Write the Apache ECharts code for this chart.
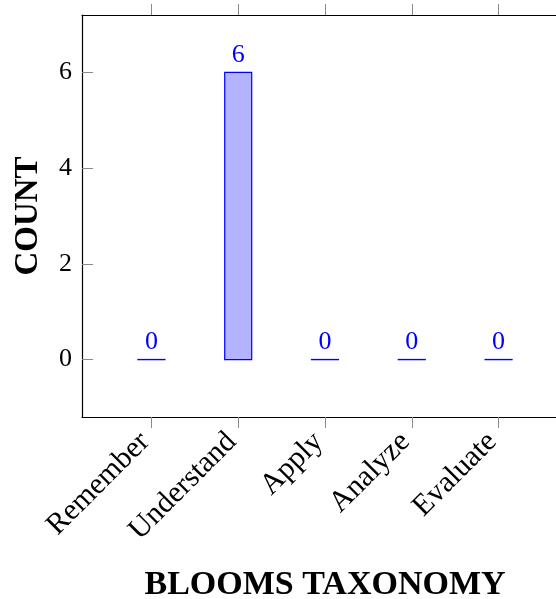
<!DOCTYPE html>
<html><head><meta charset="utf-8">
<script src="https://cdn.jsdelivr.net/npm/echarts@6/dist/echarts.min.js"></script>
<style>html,body{margin:0;padding:0;background:#fff}#c{width:556px;height:599px}</style>
</head><body><div id="c"></div>
<script>
const categories = ['Remember', 'Understand', 'Apply', 'Analyze', 'Evaluate'];
const counts = [0, 6, 0, 0, 0];
const yTicks = [0, 2, 4, 6];
const xTicks = categories.map((c, i) => i);

const serif = 'Liberation Serif';
const chart = echarts.init(document.getElementById('c'), null, {renderer: 'canvas'});
const tickStyle = {color: '#8a8a8a', width: 1};
const lineStyle = {color: '#000', width: 1.2};
chart.setOption({
  animation: false,
  grid: {left: 82, top: 15, width: 486, bottom: 182, show: false, containLabel: false, outerBoundsMode: 'none'},
  xAxis: [{
    type: 'value', position: 'bottom', min: -0.8, max: 4.8,
    axisLine: {show: true, onZero: false, lineStyle: lineStyle},
    axisTick: {show: true, inside: false, length: 11, customValues: xTicks, lineStyle: tickStyle},
    axisLabel: {show: true, customValues: xTicks, rotate: 45, margin: 14, padding: [0, 9, 0, 0], fontFamily: serif, fontSize: 30, color: '#000',
      formatter: v => categories[Math.round(v)]},
    splitLine: {show: false},
    name: 'BLOOMS TAXONOMY', nameLocation: 'middle', nameGap: 151,
    nameTextStyle: {fontFamily: serif, fontWeight: 'bold', fontSize: 34, color: '#000'}
  }, {
    type: 'value', position: 'top', min: -0.8, max: 4.8,
    axisLine: {show: true, onZero: false, lineStyle: lineStyle},
    axisTick: {show: true, inside: false, length: 11, customValues: xTicks, lineStyle: tickStyle},
    axisLabel: {show: false},
    splitLine: {show: false}
  }],
  yAxis: {
    type: 'value', min: -1.2, max: 7.2,
    axisLine: {show: true, onZero: false, lineStyle: lineStyle},
    axisTick: {show: true, inside: true, length: 11, customValues: yTicks, lineStyle: tickStyle},
    axisLabel: {show: true, customValues: yTicks, margin: 10, fontFamily: serif, fontSize: 26, color: '#000'},
    splitLine: {show: false},
    name: 'COUNT', nameLocation: 'middle', nameGap: 37, nameRotate: 90,
    nameTextStyle: {fontFamily: serif, fontWeight: 'bold', fontSize: 33, color: '#000'}
  },
  series: [{
    type: 'custom', xAxisIndex: 0,
    data: counts.map((v, i) => [i, v]),
    renderItem: function (params, api) {
      const x = api.value(0), v = api.value(1);
      const base = api.coord([x, 0]);
      const top = api.coord([x, v]);
      const w = 27;
      const children = [];
      if (v !== 0) {
        children.push({type: 'rect', shape: {x: base[0] - w / 2, y: top[1], width: w, height: base[1] - top[1]},
          style: {fill: '#b3b3ff', stroke: '#0000ff', lineWidth: 1.2}});
      } else {
        children.push({type: 'rect', shape: {x: base[0] - w / 2 - 0.6, y: base[1] - 0.7, width: w + 1.2, height: 1.4},
          style: {fill: '#0000ff', stroke: null}});
      }
      children.push({type: 'text', x: base[0], y: top[1] - 4,
        style: {text: String(v), align: 'center', verticalAlign: 'bottom', fill: '#0000ff', font: '26px "Liberation Serif"'}});
      return {type: 'group', children: children};
    }
  }]
});
</script></body></html>
